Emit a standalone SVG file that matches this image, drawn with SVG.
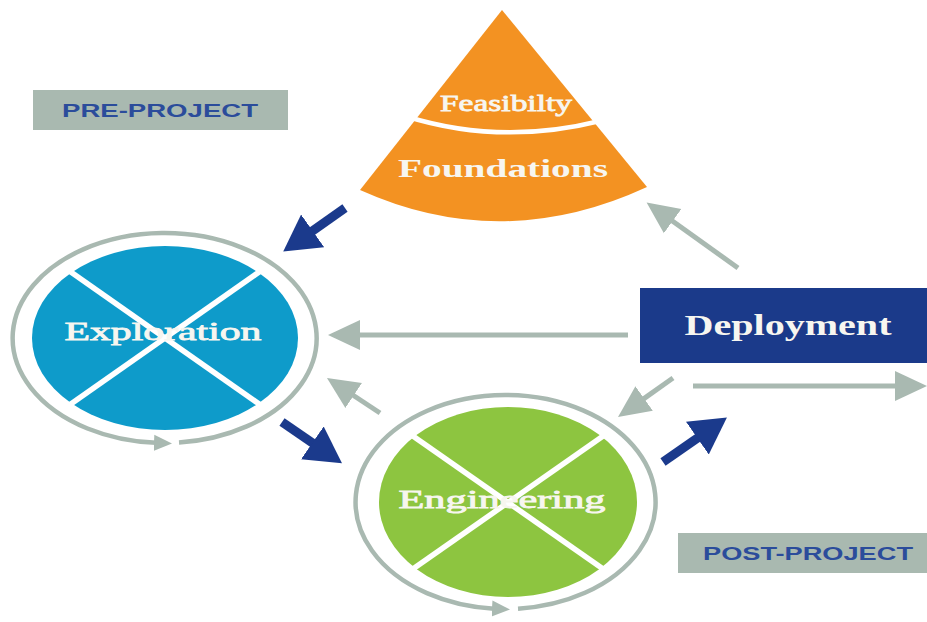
<svg xmlns="http://www.w3.org/2000/svg" width="927" height="622" viewBox="0 0 927 622">
<style>
.ring{fill:none;stroke:#a9b9b1;stroke-width:4.5}
.cross{stroke:#ffffff;stroke-width:5.5;stroke-linecap:butt}
.garrow{fill:none;stroke:#a9b9b1;stroke-width:5}
.barrow{fill:none;stroke:#1b3a8c;stroke-width:9}
.lbl{fill:#a9b9b0}
.lbltxt{font-family:"Liberation Sans",Arial,sans-serif;font-weight:bold;font-size:19px;fill:#2b4c9b}
.ntxt{font-family:"Liberation Serif","Times New Roman",serif;fill:#f7f6f0}
.thick{stroke:#f7f6f0;stroke-width:0.8}
</style>
<defs>
<marker id="gh" markerUnits="userSpaceOnUse" markerWidth="34" markerHeight="32" viewBox="0 -16 34 32" refX="2" refY="0" orient="auto"><path d="M0,-15 L32,0 L0,15 z" fill="#a9b9b1"/></marker>
<marker id="bh" markerUnits="userSpaceOnUse" markerWidth="38" markerHeight="42" viewBox="0 -21 38 42" refX="2" refY="0" orient="auto"><path d="M0,-20 L36,0 L0,20 z" fill="#1b3a8c"/></marker>
<marker id="rh" markerUnits="userSpaceOnUse" markerWidth="20" markerHeight="18" viewBox="0 -9 20 18" refX="2" refY="0" orient="auto"><path d="M0,-8 L18,0 L0,8 z" fill="#a9b9b1"/></marker>
</defs>
<rect width="927" height="622" fill="#ffffff"/>

<g id="pre-project">
<rect class="lbl" x="33" y="90" width="255" height="40"/>
<text class="lbltxt" x="160" y="117" text-anchor="middle" textLength="196" lengthAdjust="spacingAndGlyphs">PRE-PROJECT</text>
</g>

<g id="post-project">
<rect class="lbl" x="678" y="533" width="249" height="40"/>
<text class="lbltxt" x="808" y="560" text-anchor="middle" textLength="210" lengthAdjust="spacingAndGlyphs">POST-PROJECT</text>
</g>

<g id="feasibility-foundations">
<path d="M502,10 L360,190 Q502,254 647,187 Z" fill="#f39222"/>
<path d="M405,116 Q500,146 600,121" fill="none" stroke="#ffffff" stroke-width="4.5"/>
<text class="ntxt thick" x="506" y="111" text-anchor="middle" font-size="24" textLength="132" lengthAdjust="spacingAndGlyphs">Feasibilty</text>
<text class="ntxt" x="503" y="177" text-anchor="middle" font-size="26" font-weight="bold" textLength="210" lengthAdjust="spacingAndGlyphs">Foundations</text>
</g>

<g id="exploration">
<path class="ring" d="M179,442.55 A152,105 0 1 0 156,442.85" marker-end="url(#rh)"/>
<ellipse cx="165" cy="338" rx="133" ry="92" fill="#0e9bca"/>
<line class="cross" x1="68" y1="270" x2="262" y2="406"/>
<line class="cross" x1="262" y1="270" x2="68" y2="406"/>
<text class="ntxt thick" x="163" y="340" text-anchor="middle" font-size="26" textLength="197" lengthAdjust="spacingAndGlyphs">Exploration</text>
</g>

<g id="engineering">
<path class="ring" d="M518,608.66 A150,107 0 1 0 494,608.71" marker-end="url(#rh)"/>
<ellipse cx="508" cy="502" rx="129" ry="95" fill="#8dc540"/>
<line class="cross" x1="410" y1="434" x2="606" y2="571"/>
<line class="cross" x1="606" y1="434" x2="410" y2="571"/>
<text class="ntxt thick" x="502" y="508" text-anchor="middle" font-size="26" textLength="207" lengthAdjust="spacingAndGlyphs">Engineering</text>
</g>

<g id="deployment">
<rect x="640" y="288" width="287" height="75" fill="#1b3a8a"/>
<text class="ntxt" x="788" y="335" text-anchor="middle" font-size="30" font-weight="bold" textLength="207" lengthAdjust="spacingAndGlyphs">Deployment</text>
</g>

<g id="connectors">
<line class="garrow" x1="628" y1="335" x2="358" y2="335" marker-end="url(#gh)"/>
<line class="garrow" x1="738" y1="268" x2="671" y2="220" marker-end="url(#gh)"/>
<line class="garrow" x1="380" y1="413" x2="352" y2="394.5" marker-end="url(#gh)"/>
<line class="garrow" x1="673" y1="378" x2="642.5" y2="399.6" marker-end="url(#gh)"/>
<line class="garrow" x1="693" y1="386" x2="897" y2="386" marker-end="url(#gh)"/>
<line class="barrow" x1="345" y1="208" x2="311" y2="232" marker-end="url(#bh)"/>
<line class="barrow" x1="282" y1="422" x2="314" y2="444" marker-end="url(#bh)"/>
<line class="barrow" x1="663" y1="462" x2="699" y2="437" marker-end="url(#bh)"/>
</g>
</svg>
